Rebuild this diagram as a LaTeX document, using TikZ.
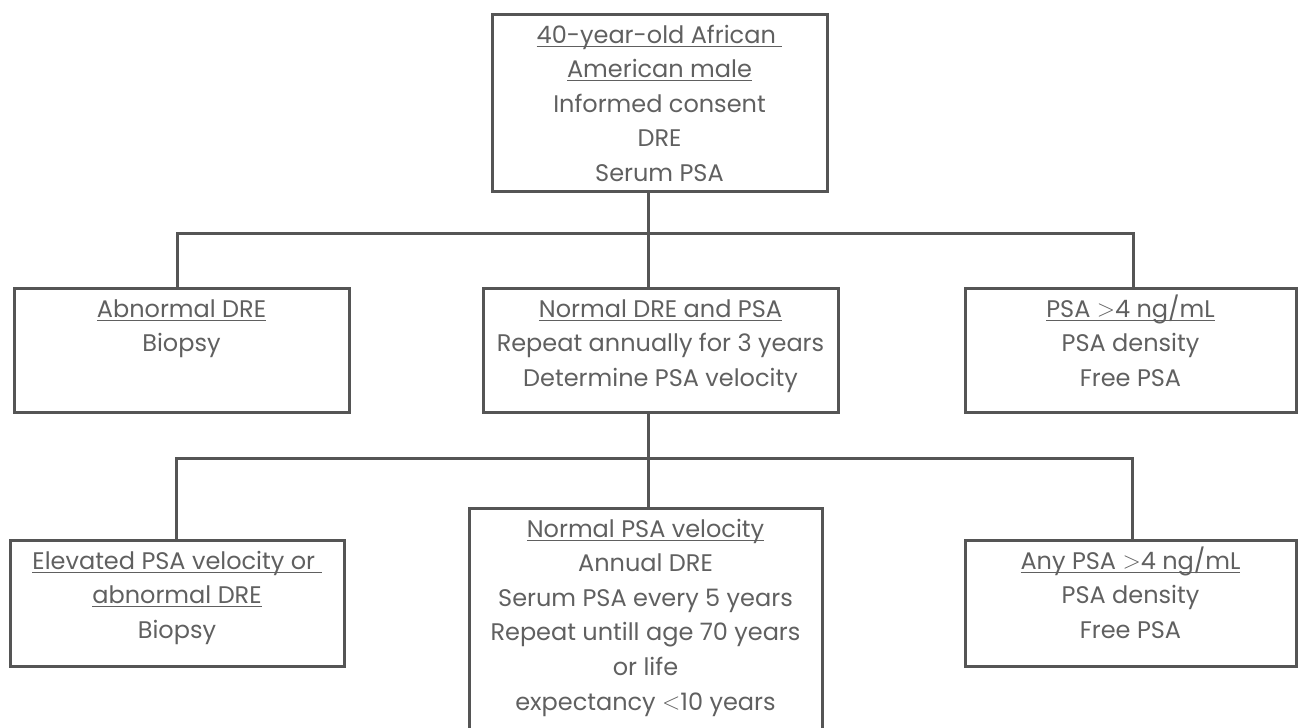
\documentclass[tikz,border=0pt]{standalone}
\usepackage{fontspec}
\setmainfont{Poppins}
\usetikzlibrary{positioning}
\definecolor{linegray}{HTML}{555555}
\definecolor{textgray}{HTML}{606060}
\newcommand{\hd}[1]{\setbox0\hbox{#1}\rlap{\rule[-1.8pt]{\wd0}{0.5pt}}\strut\box0}
\newcommand{\gtsym}{\raisebox{0.2pt}{$>$}}
\newcommand{\ltsym}{\raisebox{0.2pt}{$<$}}
\tikzset{
  box/.style={draw=linegray, line width=1.5pt, inner sep=0pt},
  txt/.style={align=center, text=textgray, inner sep=0pt, anchor=north, yshift=-3pt,
    font=\fontsize{12}{17.3}\selectfont},
  link/.style={draw=linegray, line width=1.5pt, line join=miter}
}

\begin{document}
\begin{tikzpicture}[x=0.5pt, y=-0.5pt]
    \useasboundingbox (0,0) rectangle (1298,728);

    % top
    \node[box, minimum width=167.5pt, minimum height=88.5pt,
      label={[txt]north:{\hd{40-year-old African\ }\\\hd{American male}\\Informed consent\\DRE\\Serum PSA}}] (root) at (659.5,102.5) {};

    % second row
    \node[box, minimum width=167.5pt, minimum height=62pt,
      label={[txt]north:{\hd{Abnormal DRE}\\Biopsy}}] (abn) at (181.5,350) {};
    \node[box, minimum width=177.5pt, minimum height=62pt,
      label={[txt]north:{\hd{Normal DRE and PSA}\\Repeat annually for 3 years\\Determine PSA velocity}}] (norm) at (660.5,350) {};
    \node[box, minimum width=165.5pt, minimum height=62pt,
      label={[txt]north:{\hd{PSA \gtsym4 ng/mL}\\PSA density\\Free PSA}}] (psa) at (1130.5,350) {};

    % third row
    \node[box, minimum width=167pt, minimum height=63pt,
      label={[txt]north:{\hd{Elevated PSA velocity or\ }\\\hd{abnormal DRE}\\Biopsy}}] (elev) at (177,603) {};
    \node[box, minimum width=176.5pt, minimum height=116pt,
      label={[txt]north:{\hd{Normal PSA velocity}\\Annual DRE\\Serum PSA every 5 years\\Repeat untill age 70 years\\or life\\expectancy \ltsym10 years}}] (nvel) at (645.5,624) {};
    \node[box, minimum width=165.5pt, minimum height=63pt,
      label={[txt]north:{\hd{Any PSA \gtsym4 ng/mL}\\PSA density\\Free PSA}}] (anyp) at (1130.5,603) {};

    % branch points
    \coordinate (j1) at (648,233);
    \coordinate (b1) at (177,233);
    \coordinate (b3) at (1133,233);
    \coordinate (c1) at (176,458);
    \coordinate (c3) at (1132,458);

    \draw[link] (root.south -| j1) -- (norm.north -| j1);
    \draw[link] (abn.north -| b1) -- (b1) -- (b3) -- (psa.north -| b3);
    \draw[link] (norm.south -| j1) -- (nvel.north -| j1);
    \draw[link] (elev.north -| c1) -- (c1) -- (c3) -- (anyp.north -| c3);
\end{tikzpicture}
\end{document}
